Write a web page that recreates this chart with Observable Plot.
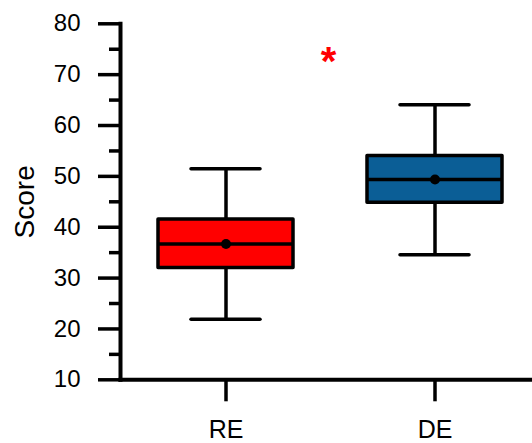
<!DOCTYPE html>
<html>
<head>
<meta charset="utf-8">
<script src="https://cdn.jsdelivr.net/npm/d3@7"></script>
<script src="https://cdn.jsdelivr.net/npm/@observablehq/plot@0.6"></script>
<style>
  html, body { margin: 0; padding: 0; background: #fff; }
  svg { display: block; font-family: "Liberation Sans", Arial, sans-serif; }
</style>
</head>
<body>
<div id="chart"></div>
<script>
// ---- data ----
const categories = ["RE", "DE"];
const lows    = [21.9, 34.6];
const q1s     = [32.0, 44.8];
const medians = [36.7, 49.4];
const q3s     = [41.5, 54.0];
const highs   = [51.5, 64.1];
const means   = [36.7, 49.4];
const majorTicks = [10, 20, 30, 40, 50, 60, 70, 80];
const minorTicks = [15, 25, 35, 45, 55, 65, 75];
const annotation = [{label: "*", value: 73.4}];
const axisTitle = "Score";

const rows = categories.map((c, i) => ({
  cat: c, low: lows[i], q1: q1s[i], median: medians[i], q3: q3s[i], high: highs[i], mean: means[i]
}));

const ink = "#000";
const sw = 3.5;

const chart = Plot.plot({
  width: 532,
  height: 443,
  marginLeft: 120,
  marginRight: 0,
  marginTop: 23.3,
  marginBottom: 63.7,
  style: {fontFamily: "'Liberation Sans', Arial, sans-serif", color: "#000", background: "#fff"},
  x: {type: "band", domain: categories, paddingInner: 0.352, paddingOuter: 0.157, align: 0.561},
  y: {domain: [10, 80]},
  color: {domain: categories, range: ["#ff0000", "#0b5e96"]},
  marks: [
    // minor y ticks
    Plot.axisY({ticks: minorTicks, tickSize: 11, text: null, strokeWidth: sw, label: null}),
    // major y ticks + labels
    Plot.axisY({ticks: majorTicks, tickSize: 22, tickPadding: 18, strokeWidth: sw, fontSize: 24, label: null}),
    // x ticks + labels
    Plot.axisX({tickSize: 22, tickPadding: 18, strokeWidth: sw, fontSize: 25, label: null}),
    // axis lines
    Plot.frame({anchor: "left", stroke: ink, strokeWidth: 4}),
    Plot.frame({anchor: "bottom", stroke: ink, strokeWidth: 4}),
    // y-axis title
    Plot.text([axisTitle], {
      frameAnchor: "left", text: d => d, rotate: -90, fontSize: 28,
      textAnchor: "middle", lineAnchor: "middle",
      dx: -95, dy: 0, fill: ink
    }),
    // whiskers
    Plot.ruleX(rows, {x: "cat", y1: "low", y2: "q1", stroke: ink, strokeWidth: sw}),
    Plot.ruleX(rows, {x: "cat", y1: "q3", y2: "high", stroke: ink, strokeWidth: sw}),
    Plot.tickY(rows, {x: "cat", y: "low", stroke: ink, strokeWidth: sw, insetLeft: 33, insetRight: 33, strokeLinecap: "round"}),
    Plot.tickY(rows, {x: "cat", y: "high", stroke: ink, strokeWidth: sw, insetLeft: 33, insetRight: 33, strokeLinecap: "round"}),
    // boxes
    Plot.barY(rows, {x: "cat", y1: "q1", y2: "q3", fill: "cat", stroke: ink, strokeWidth: 3.5, strokeLinejoin: "round"}),
    // median
    Plot.tickY(rows, {x: "cat", y: "median", stroke: ink, strokeWidth: sw}),
    // mean
    Plot.dot(rows, {x: "cat", y: "mean", r: 5, fill: ink, stroke: null}),
    // significance asterisk
    Plot.text(annotation, {
      y: "value", text: "label", frameAnchor: "middle", fontSize: 40, fontWeight: "bold",
      fill: "#ff0000", dx: 2, dy: 4.5
    })
  ]
});

document.getElementById("chart").appendChild(chart);
</script>
</body>
</html>
